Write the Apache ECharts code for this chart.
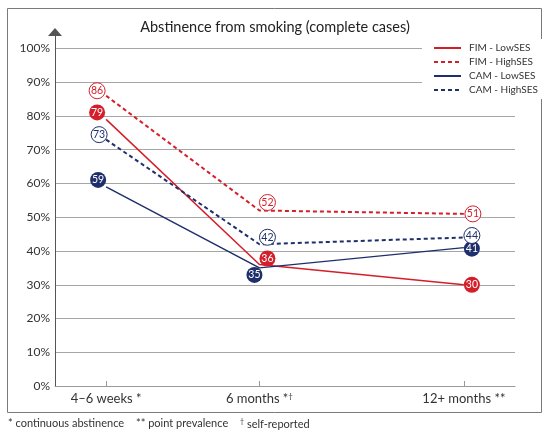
<!DOCTYPE html>
<html>
<head>
<meta charset="utf-8">
<script src="https://cdn.jsdelivr.net/npm/echarts@6/dist/echarts.min.js"></script>
<style>
  html, body { margin: 0; padding: 0; background: #fff; }
  #main { width: 550px; height: 435px; }
</style>
</head>
<body>
<div id="main"></div>
<script>
// categories on the x axis and where they sit in time (months)
var categories = ['4–6 weeks *', '6 months *†', '12+ months **'];
var timeMonths = [1.5, 6, 12];

// abstinence (%) per group
var fimLow = [79, 36, 30];
var fimHigh = [86, 52, 51];
var camLow = [59, 35, 41];
var camHigh = [73, 42, 44];

var yTicks = [0, 10, 20, 30, 40, 50, 60, 70, 80, 90, 100];

var RED = '#d41f2a';
var NAVY = '#1f2f6c';
var FONT = 'Lato';

var groups = [
    { name: 'FIM - LowSES', values: fimLow, color: RED, dashed: false, filled: true,
      nudge: [[-9, -7], [8, -6], [8, 0]] },
    { name: 'FIM - HighSES', values: fimHigh, color: RED, dashed: true, filled: false,
      nudge: [[-9, -5], [8, -8], [9, 0]] },
    { name: 'CAM - LowSES', values: camLow, color: NAVY, dashed: false, filled: true,
      nudge: [[-8, -7], [-5, 7], [8, 1]] },
    { name: 'CAM - HighSES', values: camHigh, color: NAVY, dashed: true, filled: false,
      nudge: [[-7, -5], [8, -7], [8, -2]] }
];

var series = [];
// lines first
groups.forEach(function (g) {
    series.push({
        name: g.name,
        type: 'line',
        symbol: 'none',
        z: 2,
        data: g.values.map(function (v, i) { return [timeMonths[i], v]; }),
        lineStyle: {
            color: g.color,
            width: g.dashed ? 2 : 1.5,
            type: g.dashed ? [4, 3] : 'solid'
        },
        itemStyle: { color: g.color }
    });
});
// value badges on top
groups.forEach(function (g) {
    series.push({
        name: g.name + ' badge',
        type: 'scatter',
        z: 4,
        symbol: 'circle',
        symbolSize: 16,
        data: g.values.map(function (v, i) {
            return { value: [timeMonths[i], v], symbolOffset: g.nudge[i] };
        }),
        itemStyle: g.filled
            ? { color: g.color, opacity: 1 }
            : { color: '#fff', borderColor: g.color, borderWidth: 1, opacity: 1 },
        label: {
            show: true,
            position: 'inside',
            fontFamily: FONT,
            fontSize: 10.5,
            color: g.filled ? '#fff' : g.color,
            formatter: function (p) { return p.value[1]; }
        }
    });
});

var chart = echarts.init(document.getElementById('main'));
chart.setOption({
    animation: false,
    textStyle: { fontFamily: FONT },
    title: {
        text: 'Abstinence from smoking (complete cases)',
        left: 'center',
        top: 15,
        textStyle: { fontFamily: FONT, fontSize: 14.5, fontWeight: 'normal', color: '#222' }
    },
    legend: {
        orient: 'vertical',
        left: 422,
        top: 39,
        padding: [4, 8, 4, 11],
        backgroundColor: '#fff',
        itemWidth: 27,
        itemHeight: 10,
        itemGap: 4,
        itemStyle: { opacity: 0 },
        textStyle: { fontFamily: FONT, fontSize: 10, color: '#333', padding: [0, 0, 0, 3] },
        data: groups.map(function (g) { return g.name; })
    },
    grid: { left: 55, right: 35, top: 35, bottom: 49 },
    xAxis: {
        type: 'value',
        min: 0,
        max: 13.5,
        axisLine: { lineStyle: { color: '#999', width: 1 } },
        axisTick: {
            show: true,
            inside: true,
            length: 5,
            customValues: timeMonths,
            lineStyle: { color: '#999' }
        },
        splitLine: { show: false },
        axisLabel: {
            customValues: timeMonths,
            margin: 6,
            fontFamily: FONT,
            fontSize: 13,
            color: '#333',
            formatter: function (v) {
                var idx = timeMonths.indexOf(v);
                var t = idx >= 0 ? categories[idx] : '';
                return t.replace('†', '{sup|†}');
            },
            rich: {
                sup: { fontSize: 8, fontFamily: FONT, color: '#333', padding: [0, 0, 6, 0] }
            }
        }
    },
    yAxis: {
        type: 'value',
        min: 0,
        max: 104,
        interval: 10,
        axisLine: {
            show: true,
            symbol: ['none', 'triangle'],
            symbolSize: [14, 8],
            symbolOffset: [0, 3],
            lineStyle: { color: '#555', width: 1 }
        },
        axisTick: { show: false },
        splitLine: {
            show: true,
            showMaxLine: false,
            lineStyle: { color: '#a6a6a6', width: 1 }
        },
        axisLabel: {
            customValues: yTicks,
            margin: 5,
            fontFamily: FONT,
            fontSize: 12,
            color: '#333',
            formatter: function (v) { return v <= 100 ? v + '%' : ''; }
        }
    },
    graphic: [
        {
            type: 'rect',
            shape: { x: 7.5, y: 8.5, width: 534, height: 404 },
            style: { fill: 'none', stroke: '#7a7a7a', lineWidth: 1 },
            z: -1,
            silent: true
        },
        {
            type: 'text',
            left: 8,
            top: 418,
            style: { text: '* continuous abstinence', fontFamily: FONT, fontSize: 11, fill: '#333' }
        },
        {
            type: 'text',
            left: 136,
            top: 418,
            style: { text: '** point prevalence', fontFamily: FONT, fontSize: 11, fill: '#333' }
        },
        {
            type: 'text',
            left: 240,
            top: 418,
            style: {
                text: '{sup|†} self-reported',
                fontFamily: FONT, fontSize: 11, fill: '#333',
                rich: { sup: { fontSize: 7, fontFamily: FONT, fill: '#333', padding: [0, 0, 5, 0] } }
            }
        }
    ],
    series: series
});
</script>
</body>
</html>
